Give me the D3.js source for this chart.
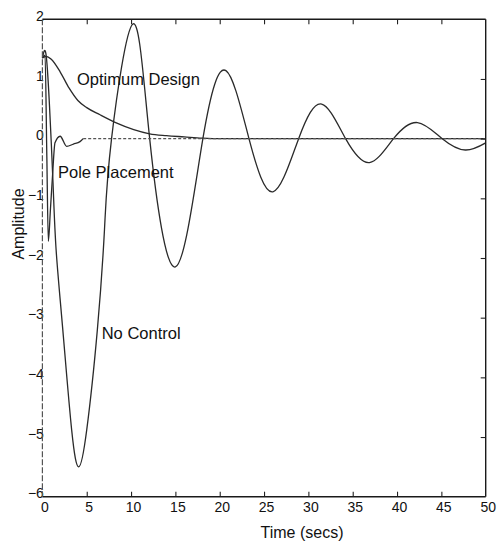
<!DOCTYPE html>
<html>
<head>
<meta charset="utf-8">
<script src="https://cdn.jsdelivr.net/npm/d3@7"></script>
<style>
  html, body { margin: 0; padding: 0; background: #fff; }
  svg { display: block; }
  text { font-family: "Liberation Sans", Arial, Helvetica, sans-serif; fill: #111; }
</style>
</head>
<body>
<svg id="chart" width="498" height="549"></svg>
<script>
// Step responses of the three controllers (time in seconds, amplitude)
const noControlT = [0, 0.4, 0.8, 1.2, 1.55, 2.3, 3.3, 4.1, 5.0, 6.2, 7.0, 7.8, 10.2, 12.1, 15.0, 18.1, 20.7, 23.3, 26.0, 28.9, 31.5, 34.2, 36.9, 39.6, 42.3, 45.1, 47.7, 50];
const noControlV = [1.35, 1.42, 0.55, -0.75, -1.87, -3.2, -4.88, -5.5, -4.88, -3.2, -1.53, 0, 1.92, 0, -2.15, 0, 1.14, 0, -0.89, 0, 0.58, 0, -0.40, 0, 0.27, 0, -0.19, -0.07];

const optimumT = [0, 0.4, 1.0, 2.0, 3.0, 4.0, 5.0, 6.5, 8.4, 10.3, 12.1, 14.0, 16.0, 18.0, 20.0, 50];
const optimumV = [1.35, 1.38, 1.33, 1.12, 0.85, 0.64, 0.52, 0.40, 0.26, 0.15, 0.08, 0.05, 0.03, 0.01, 0, 0];

const poleT = [0, 0.3, 0.5, 0.67, 0.9, 1.15, 1.42, 2.0, 2.74, 3.5, 4.24, 4.6, 50];
const poleV = [1.35, 1.40, -0.3, -1.72, -1.2, -0.6, -0.07, 0.04, -0.13, -0.09, -0.05, 0, 0];
const poleSettleT = 4.6; // after this the response is drawn dotted

const xTicks = [0, 5, 10, 15, 20, 25, 30, 35, 40, 45, 50];
const yTicks = [2, 1, 0, -1, -2, -3, -4, -5, -6];

const curveLabels = ["Optimum Design", "Pole Placement", "No Control"];
const labelT = [3.9, 1.76, 6.69];
const labelV = [0.9, -0.654, -3.357];

const svg = d3.select("#chart");
const frameL = 42.4, frameR = 485.7, frameT = 19.3, frameB = 496.7;

const x = d3.scaleLinear().domain([0, 50]).range([frameL, frameR]);
const y = d3.scaleLinear().domain([-6, 2]).range([frameB, frameT]);

const zip = (ts, vs) => ts.map((t, i) => ({ t, v: vs[i] }));

const line = d3.line()
  .x(d => x(d.t))
  .y(d => y(d.v))
  .curve(d3.curveMonotoneX);

// the lightly damped response reads best as a smooth spline
const smoothLine = d3.line()
  .x(d => x(d.t))
  .y(d => y(d.v))
  .curve(d3.curveNatural);

// Curves
const ink = "#2a2a2a";
const plot = svg.append("g");

plot.append("path")
  .datum(zip(noControlT, noControlV))
  .attr("d", smoothLine)
  .attr("fill", "none").attr("stroke", ink).attr("stroke-width", 1.3);

plot.append("path")
  .datum(zip(optimumT, optimumV))
  .attr("d", line)
  .attr("fill", "none").attr("stroke", ink).attr("stroke-width", 1.3);

const pole = zip(poleT, poleV);
plot.append("path")
  .datum(pole.filter(d => d.t <= poleSettleT))
  .attr("d", line)
  .attr("fill", "none").attr("stroke", ink).attr("stroke-width", 1.3);

plot.append("path")
  .datum(pole.filter(d => d.t >= poleSettleT))
  .attr("d", line)
  .attr("fill", "none").attr("stroke", "#555").attr("stroke-width", 1.1)
  .attr("stroke-dasharray", "3,2");

// Axes
const axisStyle = g => {
  g.select(".domain").remove();
  g.selectAll(".tick line").attr("stroke", "#222").attr("stroke-width", 1.1);
  g.selectAll("text")
    .style("font-family", "'Liberation Sans', Arial, sans-serif")
    .attr("fill", "#111");
};

svg.append("g")
  .attr("transform", `translate(0,${frameB})`)
  .call(d3.axisBottom(x).tickValues(xTicks).tickSize(-5).tickPadding(5))
  .call(axisStyle)
  .call(g => g.selectAll(".tick text").style("font-size", "14px").attr("dx", "2"))
  .call(g => g.selectAll(".tick").filter(d => d === 0 || d === 50).select("line").remove());

svg.append("g")
  .attr("transform", `translate(0,${frameT})`)
  .call(d3.axisTop(x).tickValues(xTicks.slice(1, -1)).tickSize(-5).tickFormat(""))
  .call(axisStyle);

svg.append("g")
  .attr("transform", `translate(${frameR},0)`)
  .call(d3.axisRight(y).tickValues(yTicks.slice(1, -1)).tickSize(-5).tickFormat(""))
  .call(axisStyle);

svg.append("g")
  .attr("transform", `translate(${frameL},0)`)
  .call(d3.axisLeft(y).tickValues(yTicks).tickSize(0).tickPadding(-1.5).tickFormat(d3.format("d")))
  .call(axisStyle)
  .call(g => g.selectAll(".tick text").style("font-size", "14px").attr("dy", "0.08em"));

// Frame: left edge is faint and broken, the others solid
svg.append("line")
  .attr("x1", frameL).attr("x2", frameR).attr("y1", frameT).attr("y2", frameT)
  .attr("stroke", "#1a1a1a").attr("stroke-width", 1.4);
svg.append("line")
  .attr("x1", frameL).attr("x2", frameR).attr("y1", frameB).attr("y2", frameB)
  .attr("stroke", "#1a1a1a").attr("stroke-width", 1.4);
svg.append("line")
  .attr("x1", frameR).attr("x2", frameR).attr("y1", frameT).attr("y2", frameB)
  .attr("stroke", "#1a1a1a").attr("stroke-width", 1.4);
svg.append("line")
  .attr("x1", frameL).attr("x2", frameL).attr("y1", frameT).attr("y2", frameB)
  .attr("stroke", "#555").attr("stroke-width", 1.2)
  .attr("stroke-dasharray", "6,2");

// Axis titles
svg.append("text")
  .attr("x", 302).attr("y", 538)
  .attr("text-anchor", "middle")
  .style("font-size", "16px")
  .text("Time (secs)");

svg.append("text")
  .attr("transform", "translate(24,224) rotate(-90)")
  .attr("text-anchor", "middle")
  .style("font-size", "16px")
  .text("Amplitude");

// Curve annotations
svg.append("g").selectAll("text")
  .data(curveLabels)
  .join("text")
  .attr("x", (d, i) => x(labelT[i]))
  .attr("y", (d, i) => y(labelV[i]))
  .style("font-size", "16.5px")
  .text(d => d);
</script>
</body>
</html>
